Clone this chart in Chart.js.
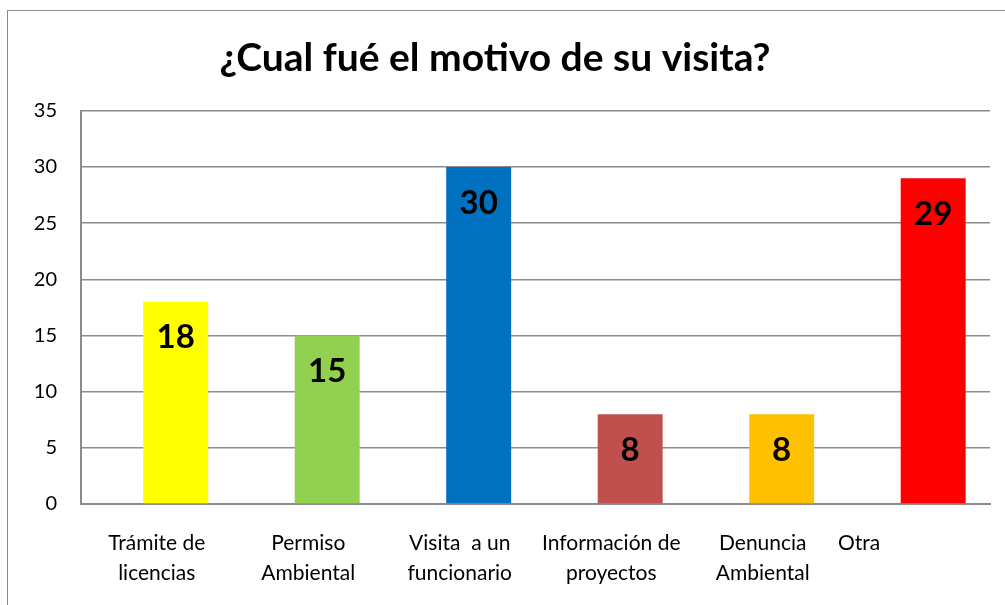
<!DOCTYPE html>
<html>
<head>
<meta charset="utf-8">
<script src="https://cdn.jsdelivr.net/npm/chart.js@4"></script>
<style>
  html, body { margin: 0; padding: 0; background: #fff; }
  #wrap { position: relative; width: 1005px; height: 605px; overflow: hidden; }
  #frame { position: absolute; left: 7px; top: 10px; width: 1010px; height: 610px;
           border-left: 1px solid #8a8a8a; border-top: 1px solid #8a8a8a; }
  canvas { position: absolute; left: 0; top: 0; }
</style>
</head>
<body>
<div id="wrap">
  <div id="frame"></div>
  <canvas id="chart" width="1005" height="605"></canvas>
</div>
<script>
const categories = [
  ["Trámite de", "licencias"],
  ["Permiso", "Ambiental"],
  ["Visita  a un", "funcionario"],
  ["Información de", "proyectos"],
  ["Denuncia", "Ambiental"],
  ["Otra"]
];
const values = [18, 15, 30, 8, 8, 29];
const barColors = ["#FFFF00", "#92D050", "#0070C0", "#C0504D", "#FFC000", "#FF0000"];
const yTicks = [0, 5, 10, 15, 20, 25, 30, 35];

const FONT = "Lato, 'Open Sans', sans-serif";

// value labels drawn inside the top of each bar
const valueLabels = {
  id: "valueLabels",
  afterDatasetsDraw(chart) {
    const ctx = chart.ctx;
    const meta = chart.getDatasetMeta(1);
    ctx.save();
    ctx.font = "bold 33px " + FONT;
    ctx.fillStyle = "#000";
    ctx.textAlign = "center";
    ctx.textBaseline = "middle";
    meta.data.forEach((bar, i) => {
      ctx.fillText(values[i], bar.x, bar.y + 36);
    });
    ctx.restore();
  }
};

new Chart(document.getElementById("chart").getContext("2d"), {
  type: "bar",
  data: {
    labels: categories,
    datasets: [
      { data: categories.map(() => null), backgroundColor: "transparent" },
      { data: values, backgroundColor: barColors, borderWidth: 0 }
    ]
  },
  options: {
    responsive: false,
    animation: false,
    datasets: { bar: { categoryPercentage: 0.5, barPercentage: 1.715 } },
    layout: { padding: { left: 0, right: 15, top: 0, bottom: 0 } },
    plugins: {
      legend: { display: false },
      tooltip: { enabled: false },
      title: {
        display: true,
        text: "¿Cual fué el motivo de su visita?",
        color: "#000",
        font: { family: FONT, size: 39, weight: "bold", lineHeight: 1.2 },
        padding: { top: 35, bottom: 29 }
      }
    },
    scales: {
      x: {
        grid: { display: false, drawTicks: false },
        border: { color: "#8c8c8c", width: 2 },
        ticks: {
          color: "#000",
          font: { family: FONT, size: 21, lineHeight: 1.4 },
          padding: 25,
          maxRotation: 0,
          autoSkip: false,
          callback: function (v, i) {
            const l = categories[i];
            return i === categories.length - 1 ? l[0] + "\u2003".repeat(7) : l;
          }
        },
        afterFit(scale) {
          scale.height = 101;
          scale.paddingLeft = 0;
          scale.paddingRight = 0;
        }
      },
      y: {
        min: 0,
        max: 35,
        afterBuildTicks(scale) { scale.ticks = yTicks.map(v => ({ value: v })); },
        grid: { color: "#8c8c8c", lineWidth: 1.5, drawTicks: false },
        border: { color: "#8c8c8c", width: 2 },
        ticks: {
          color: "#000",
          font: { family: FONT, size: 20 },
          padding: 24
        },
        afterFit(scale) { scale.width = 81; }
      }
    }
  },
  plugins: [valueLabels]
});
</script>
</body>
</html>
